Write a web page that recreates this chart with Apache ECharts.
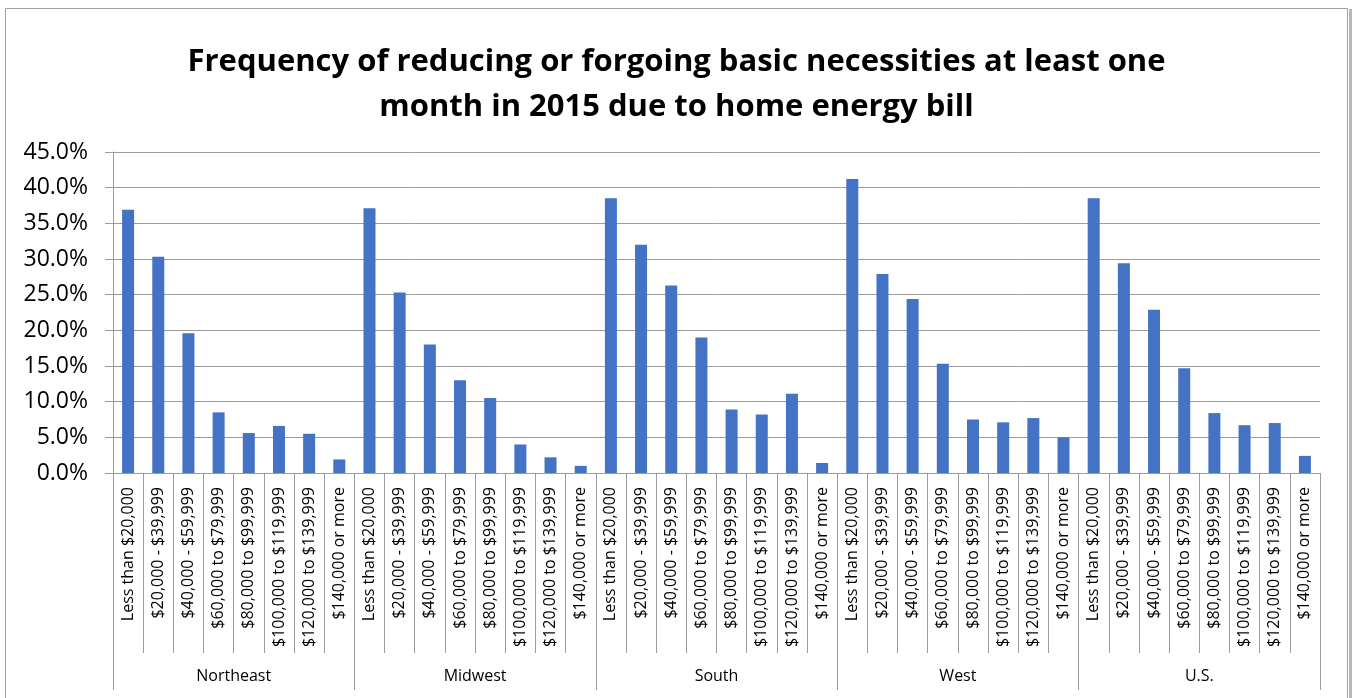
<!DOCTYPE html>
<html>
<head>
<meta charset="utf-8">
<title>Home energy bill chart</title>
<script src="https://cdn.jsdelivr.net/npm/echarts@6/dist/echarts.min.js"></script>
<style>
  html, body { margin: 0; padding: 0; background: #fff; }
  #chart { width: 1353px; height: 698px; }
</style>
</head>
<body>
<div id="chart"></div>
<script>
// income brackets repeated inside every region
var brackets = ['Less than $20,000', '$20,000 - $39,999', '$40,000 - $59,999', '$60,000 to $79,999',
  '$80,000 to $99,999', '$100,000 to $119,999', '$120,000 to $139,999', '$140,000 or more'];
var regions = ['Northeast', 'Midwest', 'South', 'West', 'U.S.'];

// percent of households, per region
var northeast = [36.9, 30.3, 19.6, 8.5, 5.6, 6.6, 5.5, 1.9];
var midwest   = [37.1, 25.3, 18.0, 13.0, 10.5, 4.0, 2.2, 1.0];
var south     = [38.5, 32.0, 26.3, 19.0, 8.9, 8.2, 11.1, 1.4];
var west      = [41.2, 27.9, 24.4, 15.3, 7.5, 7.1, 7.7, 5.0];
var us        = [38.5, 29.4, 22.9, 14.7, 8.4, 6.7, 7.0, 2.4];

var yTicks = [0, 5, 10, 15, 20, 25, 30, 35, 40, 45];

var categories = [];
var values = [];
[northeast, midwest, south, west, us].forEach(function (arr) {
  arr.forEach(function (v, i) {
    categories.push(brackets[i]);
    values.push(v);
  });
});

var gridColor = '#9c9c9c';
var font = 'Open Sans';

var dom = document.getElementById('chart');
var myChart = echarts.init(dom, null, { renderer: 'canvas' });

var option = {
  animation: false,
  title: {
    text: 'Frequency of reducing or forgoing basic necessities at least one\nmonth in 2015 due to home energy bill',
    left: 'center',
    top: 35,
    textStyle: {
      fontFamily: font,
      fontWeight: 'bold',
      fontSize: 31,
      lineHeight: 45,
      color: '#000'
    }
  },
  graphic: [
    {
      type: 'rect',
      shape: { x: 5.5, y: 8.5, width: 1342, height: 720 },
      style: { fill: 'none', stroke: '#a0a0a0', lineWidth: 1 },
      silent: true
    },
    {
      type: 'rect',
      shape: { x: 1349, y: 9, width: 3, height: 720 },
      style: { fill: '#b8b8b8' },
      silent: true
    }
  ],
  grid: { left: 113, right: 33, top: 152, bottom: 225 },
  xAxis: [
    {
      type: 'category',
      data: categories,
      axisLine: { lineStyle: { color: gridColor } },
      axisTick: { show: true, interval: 0, length: 180, lineStyle: { color: gridColor } },
      axisLabel: {
        interval: 0,
        rotate: 90,
        margin: 14,
        fontFamily: font,
        fontSize: 16,
        color: '#000'
      }
    },
    {
      type: 'category',
      data: regions,
      position: 'bottom',
      offset: 180,
      axisLine: { show: false },
      axisTick: { show: true, interval: 0, length: 37, lineStyle: { color: gridColor } },
      axisLabel: {
        interval: 0,
        margin: 15,
        fontFamily: font,
        fontSize: 16,
        color: '#000'
      }
    }
  ],
  yAxis: {
    type: 'value',
    min: yTicks[0],
    max: yTicks[yTicks.length - 1],
    interval: 5,
    axisLine: { show: true, lineStyle: { color: gridColor } },
    axisTick: { show: true, length: 8, lineStyle: { color: gridColor } },
    splitLine: { lineStyle: { color: gridColor, width: 1 } },
    axisLabel: {
      margin: 25,
      fontFamily: font,
      fontSize: 23,
      color: '#000',
      formatter: function (v) { return v.toFixed(1) + '%'; }
    }
  },
  series: [
    {
      type: 'bar',
      xAxisIndex: 0,
      data: values,
      barWidth: 12,
      itemStyle: { color: '#4472C4' }
    }
  ]
};

myChart.setOption(option);
window.addEventListener('resize', myChart.resize);
</script>
</body>
</html>
